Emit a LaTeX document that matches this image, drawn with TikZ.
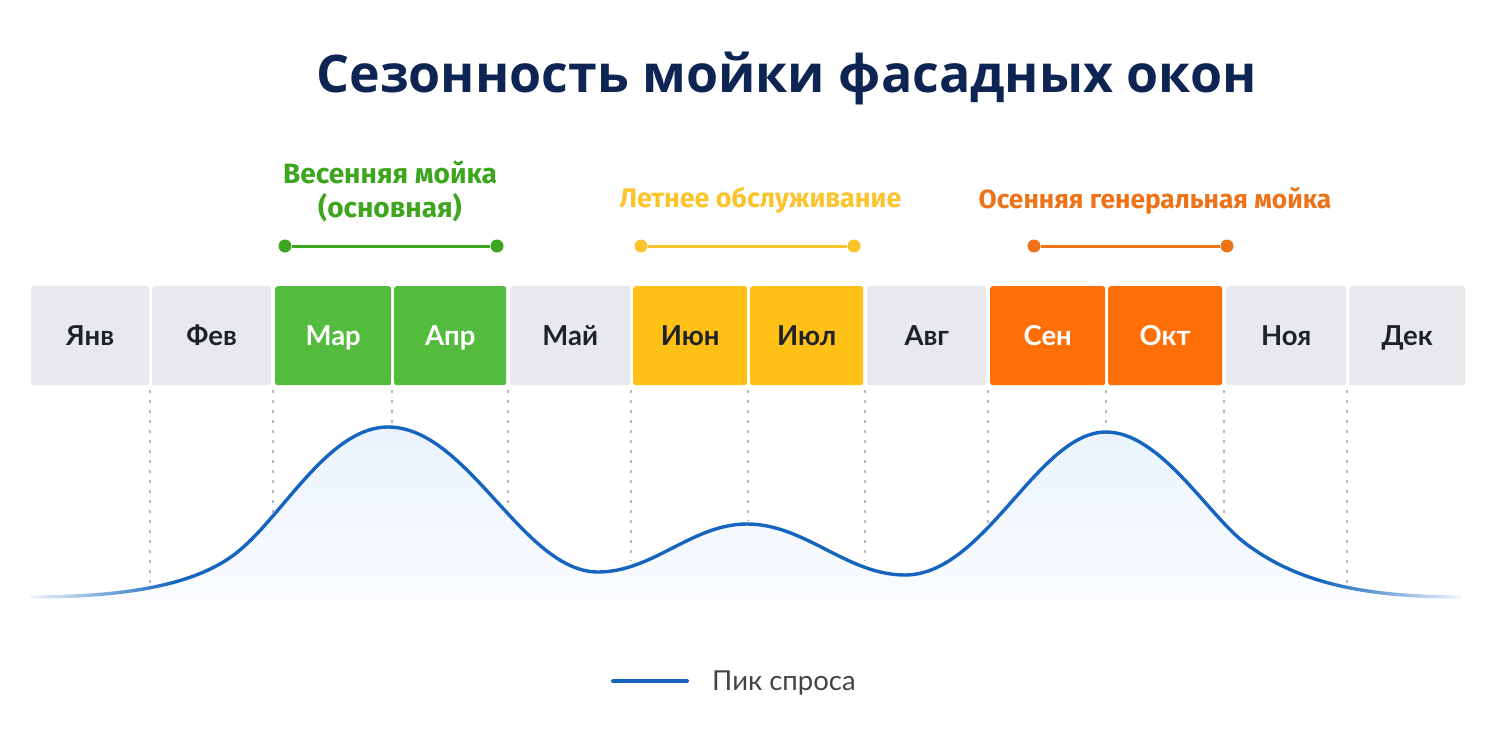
\documentclass[tikz,border=0pt]{standalone}
\usepackage{fontspec}
\setmainfont{Open Sans}
\newfontfamily\labfont{Fira Sans}
\newfontfamily\monfont{Lato}
\usetikzlibrary{fadings}
\definecolor{gbox}{HTML}{E8E9ED}
\definecolor{grn}{HTML}{53BB3D}
\definecolor{grnT}{HTML}{3DA51E}
\definecolor{yel}{HTML}{FFC115}
\definecolor{yelT}{HTML}{FBC42C}
\definecolor{org}{HTML}{FF6F08}
\definecolor{orgT}{HTML}{EE7318}
\definecolor{ink}{HTML}{1F2328}
\definecolor{navy}{HTML}{0E2554}
\definecolor{blu}{HTML}{1565C0}
\definecolor{guide}{HTML}{B8B8B8}
\definecolor{areatop}{HTML}{EAF3FD}
\definecolor{areamid}{HTML}{F3F8FE}
\tikzset{
 month/.style={rounded corners=2.5pt,inner sep=0pt,anchor=north west,minimum height=99pt,text height=24pt,text depth=5pt,font=\monfont\bfseries\fontsize{27.5}{30}\selectfont},
 plain/.style={month,fill=gbox,text=ink},
 mgreen/.style={month,fill=grn,text=white},
 myellow/.style={month,fill=yel,text=ink},
 morange/.style={month,fill=org,text=white},
 seasonlab/.style={align=center},
 guideline/.style={guide,line width=1.2pt,dash pattern=on 3pt off 7pt},
 bar/.style={line width=3pt},
 dot/.style={circle,inner sep=0pt,minimum size=13pt},
}
\def\curvepath{(30,597) .. controls (130,597) and (200,584) .. (240,550)
 .. controls (285,512) and (330,427) .. (388,427)
 .. controls (468,427) and (523,572) .. (598,572)
 .. controls (653,572) and (692,524) .. (747,524)
 .. controls (805,524) and (847,575) .. (905,575)
 .. controls (985,575) and (1038,432) .. (1106,432)
 .. controls (1160,432) and (1208,515) .. (1245,543)
 .. controls (1300,585) and (1370,597) .. (1462,597)}
\begin{document}
\begin{tikzpicture}[x=1pt,y=-1pt]
\useasboundingbox (0,0) rectangle (1500,750);
% area under the curve
\begin{scope}
\clip \curvepath -- (1462,645) -- (30,645) -- cycle;
\shade[top color=areatop,middle color=areamid,bottom color=white] (0,428) rectangle (1500,645);
\end{scope}
% curve, fading out at both ends
\draw[blu,line width=3.4pt] \curvepath;
\fill[white,path fading=east] (22,572) rectangle (175,650);
\fill[white,path fading=west] (1320,572) rectangle (1470,650);
% guides
\foreach \n/\x/\b in {a/150/584,b/273/513,c/392/425,d/508/511,e/631/561,f/748/521,g/865/561,h/988/528,i/1106/429,j/1224/516,k/1347/586}{
 \coordinate (gt\n) at (\x,390);
 \coordinate (gb\n) at (\x,\b);
 \draw[guideline] (gt\n) -- (gb\n);
}
% months
\foreach \n/\a/\b/\t/\s in {jan/31/149/Янв/plain,feb/152/271/Фев/plain,mar/275/391/Мар/mgreen,apr/394/506/Апр/mgreen,may/510/630/Май/plain,jun/633/747/Июн/myellow,jul/750/863/Июл/myellow,aug/867/986/Авг/plain,sep/990/1105/Сен/morange,oct/1108/1222/Окт/morange,nov/1226/1346/Ноя/plain,dec/1349/1465/Дек/plain}{
 \pgfmathsetmacro\w{\b-\a}
 \node[\s,minimum width=\w pt] (\n) at (\a,286) {\t};
}
% title
\node[anchor=base,inner sep=0pt,font=\bfseries\fontsize{51.9}{60}\selectfont,text=navy] (title) at (786.5,92) {Сезонность мойки фасадных окон};
% season labels
\node[seasonlab,font=\labfont\bfseries\fontsize{28}{34}\selectfont,text=grnT] (spring) at (390,191) {Весенняя мойка\\(основная)};
\node[seasonlab,font=\labfont\bfseries\fontsize{26.9}{34}\selectfont,text=yelT] (summer) at (760.5,200.5) {Летнее обслуживание};
\node[seasonlab,font=\labfont\bfseries\fontsize{26.3}{34}\selectfont,text=orgT] (autumn) at (1155,200.5) {Осенняя генеральная мойка};
% bars
\node[dot,fill=grnT] (s1) at (285,246) {};
\node[dot,fill=grnT] (s2) at (497,246) {};
\draw[bar,grnT] (s1) -- (s2);
\node[dot,fill=yelT] (u1) at (641,246) {};
\node[dot,fill=yelT] (u2) at (854,246) {};
\draw[bar,yelT] (u1) -- (u2);
\node[dot,fill=orgT] (o1) at (1034,246) {};
\node[dot,fill=orgT] (o2) at (1227,246) {};
\draw[bar,orgT] (o1) -- (o2);
% legend
\coordinate (l1) at (613,681);
\coordinate (l2) at (687,681);
\draw[blu,line width=4pt,line cap=round] (l1) -- (l2);
\node[anchor=west,inner sep=0pt,font=\monfont\fontsize{27.5}{30}\selectfont,text=ink!85] (legend) at (712,683) {Пик спроса};
\end{tikzpicture}
\end{document}
